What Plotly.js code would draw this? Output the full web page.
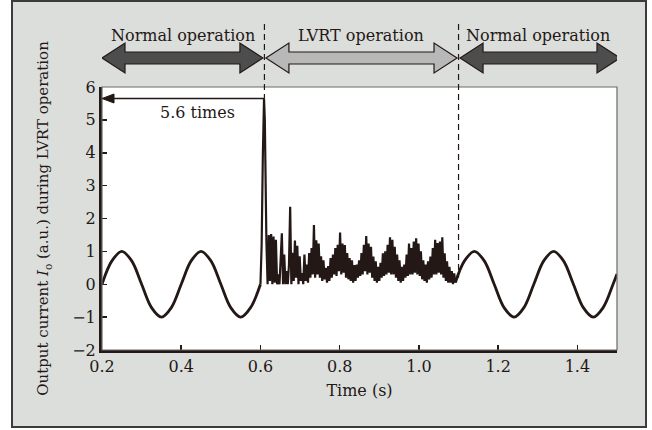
<!DOCTYPE html>
<html>
<head>
<meta charset="utf-8">
<script src="https://cdn.plot.ly/plotly-3.0.1.min.js"></script>
<style>html,body{margin:0;padding:0;background:#fff;}#chart{width:652px;height:430px;}</style>
</head>
<body>
<div id="chart"></div>
<script>
// ---- data ----
// pre-fault sinusoid (normal operation)
var preT = [0.2,0.225,0.25,0.275,0.3,0.325,0.35,0.375,0.4,0.425,0.45,0.475,0.5,0.525,0.55,0.575,0.6];
var preI = [0,0.71,1,0.71,0,-0.71,-1,-0.71,0,0.71,1,0.71,0,-0.71,-1,-0.71,0];
// inrush spike at fault onset
var spikeT = [0.600,0.603,0.606,0.609,0.611,0.613];
var spikeI = [0.0,1.2,3.9,5.65,5.0,2.5];
// LVRT burst
var lvrtT = [0.615,0.618,0.621,0.624,0.627,0.630,0.633,0.636,0.639,0.642,0.645,0.648,0.651,0.654,0.657,0.660,0.663,0.666,0.669,0.672,
0.675,0.678,0.681,0.684,0.687,0.690,0.693,0.696,0.699,0.702,0.705,0.708,0.711,0.714,0.717,0.720,0.723,0.726,0.729,0.732,
0.735,0.738,0.741,0.744,0.747,0.750,0.753,0.756,0.759,0.762,0.765,0.768,0.771,0.774,0.777,0.780,0.783,0.786,0.789,0.792,
0.795,0.798,0.801,0.804,0.807,0.810,0.813,0.816,0.819,0.822,0.825,0.828,0.831,0.834,0.837,0.840,0.843,0.846,0.849,0.852,
0.855,0.858,0.861,0.864,0.867,0.870,0.873,0.876,0.879,0.882,0.885,0.888,0.891,0.894,0.897,0.900,0.903,0.906,0.909,0.912,
0.915,0.918,0.921,0.924,0.927,0.930,0.933,0.936,0.939,0.942,0.945,0.948,0.951,0.954,0.957,0.960,0.963,0.966,0.969,0.972,
0.975,0.978,0.981,0.984,0.987,0.990,0.993,0.996,0.999,1.002,1.005,1.008,1.011,1.014,1.017,1.020,1.023,1.026,1.029,1.032,
1.035,1.038,1.041,1.044,1.047,1.050,1.053,1.056,1.059,1.062,1.065,1.068,1.071,1.074,1.077,1.080,1.083,1.086,1.089,1.092];
var lvrtI = [1.30,0.00,1.50,0.10,1.53,0.00,1.45,0.05,1.35,0.00,0.30,0.00,1.00,1.55,0.00,0.90,0.00,0.40,0.00,0.60,
2.36,0.00,0.96,0.10,1.33,0.20,1.17,0.00,0.85,0.10,0.34,0.00,0.90,0.10,0.60,0.05,0.95,0.20,1.10,0.30,
1.80,0.20,1.34,0.30,1.24,0.20,0.85,0.10,0.73,0.15,0.50,0.05,0.55,0.10,0.80,0.20,0.90,0.30,1.10,0.25,
1.20,0.40,1.57,0.30,1.24,0.35,1.19,0.20,0.95,0.15,0.80,0.10,0.73,0.05,0.58,0.10,0.60,0.20,0.73,0.25,
0.95,0.30,1.20,0.40,1.47,0.30,1.24,0.35,1.14,0.20,0.84,0.10,0.70,0.05,0.53,0.10,0.65,0.20,0.94,0.25,
1.00,0.30,1.20,0.35,1.43,0.30,1.35,0.30,1.14,0.20,0.90,0.10,0.73,0.05,0.53,0.10,0.60,0.20,0.90,0.25,
1.24,0.30,1.10,0.30,1.30,0.35,1.40,0.30,1.24,0.25,1.00,0.15,0.73,0.10,0.60,0.05,0.70,0.15,0.84,0.20,
1.10,0.30,1.35,0.30,1.25,0.35,1.30,0.30,1.43,0.20,0.94,0.10,0.70,0.05,0.53,0.05,0.40,0.00,0.33,0.05];
// post-fault sinusoid (normal operation)
var postT = [1.092,1.115,1.14,1.165,1.19,1.215,1.24,1.265,1.29,1.315,1.34,1.365,1.39,1.415,1.44,1.465,1.49,1.5];
var postI = [0.05,0.71,1,0.71,0,-0.71,-1,-0.71,0,0.71,1,0.71,0,-0.71,-1,-0.71,0,0.31];

// operating regions
var regionBounds = [0.2, 0.61, 1.1, 1.5];
var regionLabels = ['Normal operation', 'LVRT operation', 'Normal operation'];
var regionFills = ['#4d4d4d', '#b8b8b8', '#4d4d4d'];
var peakTime = 0.61, peakValue = 5.65, peakLabel = '5.6 times';
var endDashValue = 0.2;

// ---- figure ----
var ink = '#231815';
var font = 'DejaVu Serif, Liberation Serif, serif';

var traces = [
  {x: preT, y: preI, mode: 'lines', line: {color: ink, width: 2.8, shape: 'spline'}, hoverinfo: 'skip'},
  {x: spikeT.concat(lvrtT), y: spikeI.concat(lvrtI), mode: 'lines', line: {color: ink, width: 2.2}, hoverinfo: 'skip'},
  {x: postT, y: postI, mode: 'lines', line: {color: ink, width: 2.8, shape: 'spline'}, hoverinfo: 'skip'}
];

var L = 102, R = 35, T = 87, B = 80, W = 652, H = 430;
var pw = W - L - R, ph = H - T - B;
function px2paperX(p) { return (p - L) / pw; }
function px2paperY(p) { return (H - B - p) / ph; }
var pxPerSec = pw / (regionBounds[3] - regionBounds[0]);
var pxPerUnit = ph / 8;

var shapes = [
  {type: 'rect', xref: 'paper', yref: 'paper', layer: 'below',
   x0: px2paperX(12), x1: px2paperX(646), y0: px2paperY(427), y1: px2paperY(1),
   fillcolor: '#dcdedc', line: {color: '#3c3c3c', width: 2}},
  {type: 'rect', xref: 'paper', yref: 'paper', layer: 'below',
   x0: 0, x1: 1, y0: 0, y1: 1, fillcolor: '#ffffff', line: {width: 0}},
  {type: 'rect', xref: 'paper', yref: 'paper', layer: 'above',
   x0: 0, x1: 1, y0: 0, y1: 1, fillcolor: 'rgba(0,0,0,0)', line: {color: '#6a6a6a', width: 1.2}}
];

// dashed boundaries
var dashTop = px2paperY(24);
shapes.push({type: 'line', xref: 'x', yref: 'paper', x0: regionBounds[1], x1: regionBounds[1],
  y0: dashTop, y1: (peakValue + 2) / 8, line: {color: ink, width: 1.2, dash: '6px,4px'}});
shapes.push({type: 'line', xref: 'x', yref: 'paper', x0: regionBounds[2], x1: regionBounds[2],
  y0: dashTop, y1: (endDashValue + 2) / 8, line: {color: ink, width: 1.2, dash: '6px,4px'}});

// double-headed block arrows
var yc = px2paperY(58), hh = 15 / ph, sh = 6 / ph, hl = 23 / pxPerSec, gap = 3 / pxPerSec;
var annotations = [];
for (var i = 0; i < regionLabels.length; i++) {
  var a = regionBounds[i] + (i > 0 ? gap / 2 : 0);
  var b = regionBounds[i + 1] - (i < regionLabels.length - 1 ? gap / 2 : 0) + (i === regionLabels.length - 1 ? 3 / pxPerSec : 0);
  var p = 'M' + a + ',' + yc +
    ' L' + (a + hl) + ',' + (yc + hh) + ' L' + (a + hl) + ',' + (yc + sh) +
    ' L' + (b - hl) + ',' + (yc + sh) + ' L' + (b - hl) + ',' + (yc + hh) +
    ' L' + b + ',' + yc +
    ' L' + (b - hl) + ',' + (yc - hh) + ' L' + (b - hl) + ',' + (yc - sh) +
    ' L' + (a + hl) + ',' + (yc - sh) + ' L' + (a + hl) + ',' + (yc - hh) + ' Z';
  shapes.push({type: 'path', xref: 'x', yref: 'paper', path: p, fillcolor: regionFills[i],
    line: {color: ink, width: 1.2}, layer: 'above'});
  annotations.push({xref: 'x', yref: 'paper', x: (regionBounds[i] + regionBounds[i + 1]) / 2, y: px2paperY(35),
    text: regionLabels[i], showarrow: false, font: {family: font, size: 16, color: ink},
    xanchor: 'center', yanchor: 'middle'});
}

// 5.6 times arrow: shaft + filled head, in data coordinates
var ahl = 12 / pxPerSec, ahh = 4.5 / pxPerUnit;
shapes.push({type: 'line', xref: 'x', yref: 'y', x0: regionBounds[0] + ahl, x1: peakTime, y0: peakValue, y1: peakValue,
  line: {color: ink, width: 1.5}, layer: 'above'});
shapes.push({type: 'path', xref: 'x', yref: 'y', layer: 'above', fillcolor: ink, line: {color: ink, width: 1},
  path: 'M' + regionBounds[0] + ',' + peakValue + ' L' + (regionBounds[0] + ahl) + ',' + (peakValue + ahh) +
        ' L' + (regionBounds[0] + ahl) + ',' + (peakValue - ahh) + ' Z'});
annotations.push({xref: 'x', yref: 'y', x: 0.44, y: 5.22, text: peakLabel, showarrow: false,
  font: {family: font, size: 16, color: ink}, xanchor: 'center', yanchor: 'middle'});

var layout = {
  width: W, height: H,
  margin: {l: L, r: R, t: T, b: B, pad: 0},
  paper_bgcolor: '#ffffff', plot_bgcolor: '#ffffff',
  showlegend: false,
  font: {family: font, size: 16, color: ink},
  xaxis: {
    range: [0.2, 1.5], tick0: 0.2, dtick: 0.2, tickformat: '.1f',
    ticks: 'inside', ticklen: 5, tickwidth: 1.5, tickcolor: ink,
    showline: true, linewidth: 3, linecolor: ink, showgrid: false, zeroline: false,
    tickfont: {family: font, size: 16, color: ink},
    title: {text: 'Time (s)', font: {family: font, size: 16, color: ink}, standoff: 10}
  },
  yaxis: {
    range: [-2, 6], tick0: -2, dtick: 1,
    ticks: 'inside', ticklen: 5, tickwidth: 1.5, tickcolor: ink,
    showline: true, linewidth: 3, linecolor: ink, showgrid: false, zeroline: false,
    tickfont: {family: font, size: 16, color: ink},
    title: {text: 'Output current <i>I</i><sub>o</sub> (a.u.) during LVRT operation',
      font: {family: font, size: 15, color: ink}, standoff: 20}
  },
  shapes: shapes,
  annotations: annotations
};

Plotly.newPlot('chart', traces, layout, {displayModeBar: false, staticPlot: true});
</script>
</body>
</html>
